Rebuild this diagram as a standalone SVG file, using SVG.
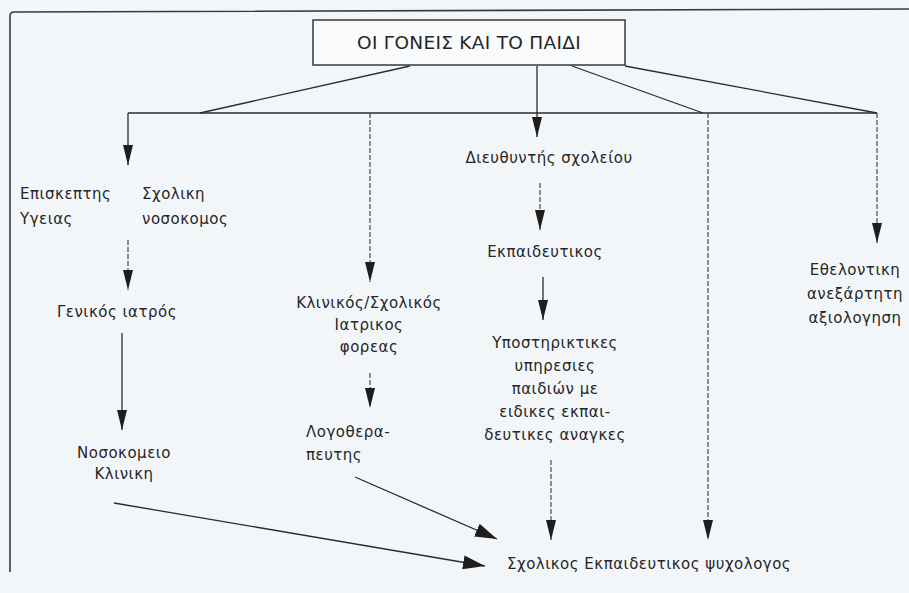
<svg xmlns="http://www.w3.org/2000/svg" width="909" height="593" viewBox="0 0 909 593">
<defs>
<style>
.ln{fill:none;stroke:#2b2b2b;stroke-width:1.3}
.ds{fill:none;stroke:#3a3a3a;stroke-width:1.1;stroke-dasharray:5 2}
.t{font-family:"DejaVu Sans","Noto Sans",sans-serif;font-size:15px;letter-spacing:0.5px;fill:#262626}
.c{text-anchor:middle}
</style>
<marker id="ah" viewBox="0 0 20 10" refX="20" refY="5" markerWidth="20" markerHeight="10" markerUnits="userSpaceOnUse" orient="auto">
<path d="M0,0 L20,5 L0,10 z" fill="#1e1e1e"/>
</marker>
<marker id="ahw" viewBox="0 0 22 14" refX="22" refY="7" markerWidth="22" markerHeight="14" markerUnits="userSpaceOnUse" orient="auto">
<path d="M0,0 L22,7 L0,14 z" fill="#1e1e1e"/>
</marker>
</defs>
<rect width="909" height="593" fill="#f3f6f9"/>
<path d="M10,572 V16 Q10,12 14,12 L909,9" fill="none" stroke="#3a3a3a" stroke-width="1.6"/>

<g id="connectors">
<path class="ln" d="M410,66 L200,113"/>
<path class="ln" d="M128,113 H877"/>
<path class="ln" d="M128,113 V165" marker-end="url(#ah)"/>
<path class="ds" d="M370,113 V282" marker-end="url(#ah)"/>
<path class="ln" d="M537,66 V137" marker-end="url(#ah)"/>
<path class="ln" d="M572,66 L703,113"/>
<path class="ds" d="M708,113 V540" marker-end="url(#ah)"/>
<path class="ln" d="M625,66 L877,113"/>
<path class="ds" d="M877,113 V243" marker-end="url(#ah)"/>
<path class="ds" d="M128,240 V290" marker-end="url(#ah)"/>
<path class="ln" d="M122,333 V430" marker-end="url(#ah)"/>
<path class="ds" d="M540,183 V230" marker-end="url(#ah)"/>
<path class="ln" d="M543,277 V320" marker-end="url(#ah)"/>
<path class="ds" d="M370,373 V408" marker-end="url(#ah)"/>
<path class="ds" d="M551,460 V540" marker-end="url(#ah)"/>
<path class="ln" d="M114,503 L485,566" marker-end="url(#ahw)"/>
<path class="ln" d="M355,477 L497,539" marker-end="url(#ahw)"/>
</g>

<g id="root">
<rect x="313" y="20" width="312" height="45" fill="#f8fafb" stroke="#2b2b2b" stroke-width="1.4"/>
<text class="t c" x="469" y="49" style="font-size:18.5px;letter-spacing:0.3px">ΟΙ ΓΟΝΕΙΣ ΚΑΙ ΤΟ ΠΑΙΔΙ</text>
</g>
<g id="episkeptis">
<text class="t" x="20" y="199">Επισκεπτης</text>
<text class="t" x="20" y="224">Υγειας</text>
</g>
<g id="nosokomos">
<text class="t" x="142" y="199">Σχολικη</text>
<text class="t" x="142" y="224">νοσοκομος</text>
</g>
<g id="genikos">
<text class="t c" x="117" y="317">Γενικός ιατρός</text>
</g>
<g id="nosokomeio">
<text class="t c" x="124" y="458">Νοσοκομειο</text>
<text class="t c" x="124" y="479">Κλινικη</text>
</g>
<g id="klinikos">
<text class="t c" x="369" y="308">Κλινικός/Σχολικός</text>
<text class="t c" x="369" y="330">Ιατρικος</text>
<text class="t c" x="369" y="352">φορεας</text>
</g>
<g id="logotherapeftis">
<text class="t" x="306" y="437">Λογοθερα-</text>
<text class="t" x="306" y="460">πευτης</text>
</g>
<g id="diefthyntis">
<text class="t c" x="549" y="163">Διευθυντής σχολείου</text>
</g>
<g id="ekpaideftikos">
<text class="t c" x="545" y="257">Εκπαιδευτικος</text>
</g>
<g id="ypostiriktikes">
<text class="t c" x="555" y="348">Υποστηρικτικες</text>
<text class="t c" x="555" y="371">υπηρεσιες</text>
<text class="t c" x="555" y="394">παιδιών με</text>
<text class="t c" x="555" y="417">ειδικες εκπαι-</text>
<text class="t c" x="555" y="440">δευτικες αναγκες</text>
</g>
<g id="ethelontiki">
<text class="t c" x="855" y="275">Εθελοντικη</text>
<text class="t c" x="855" y="299">ανεξάρτητη</text>
<text class="t c" x="855" y="323">αξιολογηση</text>
</g>
<g id="psychologos">
<text class="t" x="507" y="569">Σχολικος Εκπαιδευτικος ψυχολογος</text>
</g>
</svg>
